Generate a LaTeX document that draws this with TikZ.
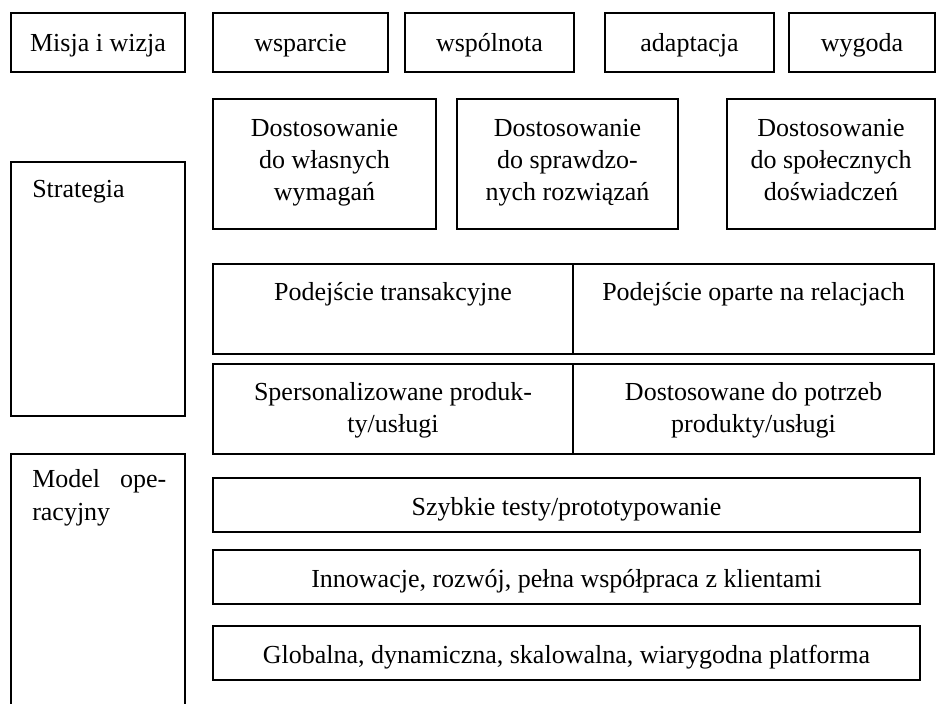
\documentclass[tikz,border=0pt]{standalone}
\usepackage{fontspec}
\setmainfont{Liberation Serif}
\usetikzlibrary{fit}
\begin{document}
\begin{tikzpicture}[x=0.75pt,y=-0.75pt,
  box/.style={draw, line width=0.9pt, inner sep=0pt},
  txt/.style={font=\fontsize{19.5pt}{24pt}\selectfont, align=center, inner sep=0pt, anchor=base}]
\useasboundingbox (0,0) rectangle (937,703);
% top row
\node[box, fit={(11,13)(185,72)}] (misja) {};
\node[txt] at (98,51) {Misja i wizja};
\node[box, fit={(213,13)(388,72)}] (wsp) {};
\node[txt] at (300.5,51) {wsparcie};
\node[box, fit={(405,13)(574,72)}] (wsn) {};
\node[txt] at (489.5,51) {wspólnota};
\node[box, fit={(605,13)(774,72)}] (ada) {};
\node[txt] at (689.5,51) {adaptacja};
\node[box, fit={(789,13)(935,72)}] (wyg) {};
\node[txt] at (862,51) {wygoda};
% Dostosowanie row (base anchor = last line)
\node[box, fit={(213,99)(436,229)}] (d1) {};
\node[txt] at (324.5,200) {Dostosowanie\\do własnych\\wymagań};
\node[box, fit={(457,99)(678,229)}] (d2) {};
\node[txt] at (567.5,200) {Dostosowanie\\do sprawdzo-\\nych rozwiązań};
\node[box, fit={(727,99)(935,229)}] (d3) {};
\node[txt] at (831,200) {Dostosowanie\\do społecznych\\doświadczeń};
% left column
\node[box, fit={(11,162)(185,416)}] (strat) {};
\node[txt, anchor=base west] at (32,197) {Strategia};
\coordinate (mbl) at (11,712);
\coordinate (mtl) at (11,454);
\coordinate (mtr) at (185,454);
\coordinate (mbr) at (185,712);
\draw[line width=0.9pt] (mbl) -- (mtl) -- (mtr) -- (mbr);
\node[txt, anchor=base west] (model1) at (32,487) {\hbox to 100.5pt{Model\hfill ope-}};
\node[txt, anchor=base west] (model2) at (32,520) {racyjny};
% Podejście row
\node[box, fit={(213,264)(573,354)}] (pt) {};
\node[txt] at (393,300) {Podejście transakcyjne};
\node[box, fit={(573,264)(934,354)}] (pr) {};
\node[txt] at (753.5,300) {Podejście oparte na relacjach};
% Spersonalizowane row (base anchor = last line)
\node[box, fit={(213,364)(573,454)}] (sp) {};
\node[txt] at (393,432) {Spersonalizowane produk-\\ty/usługi};
\node[box, fit={(573,364)(934,454)}] (dp) {};
\node[txt] at (753.5,432) {Dostosowane do potrzeb\\produkty/usługi};
% operating model rows
\node[box, fit={(213,478)(920,532)}] (szy) {};
\node[txt] at (566.5,515) {Szybkie testy/prototypowanie};
\node[box, fit={(213,550)(920,604)}] (inn) {};
\node[txt] at (566.5,587) {Innowacje, rozwój, pełna współpraca z klientami};
\node[box, fit={(213,626)(920,680)}] (glo) {};
\node[txt] at (566.5,663) {Globalna, dynamiczna, skalowalna, wiarygodna platforma};
\end{tikzpicture}
\end{document}
